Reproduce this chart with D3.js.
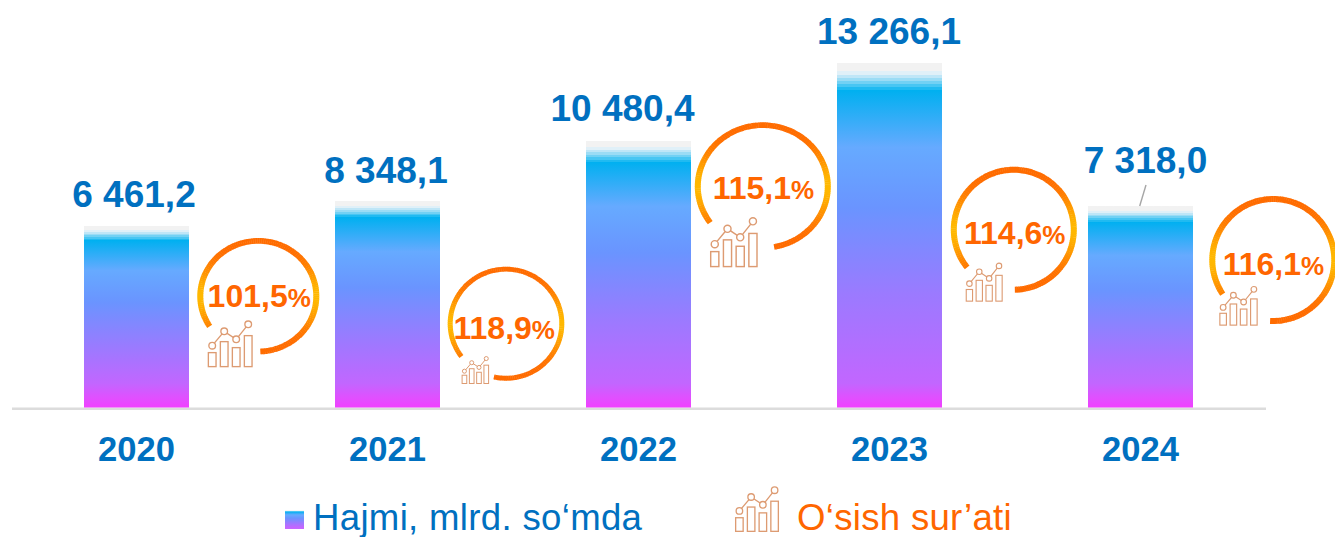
<!DOCTYPE html>
<html><head><meta charset="utf-8">
<script src="https://cdn.jsdelivr.net/npm/d3@7"></script>
<style>html,body{margin:0;padding:0;background:#fff;overflow:hidden}svg{display:block}text{font-family:"Liberation Sans",Arial,sans-serif}</style>
</head><body><svg id="c" width="1335" height="537"></svg>
<script>
// Data
const years = ["2020","2021","2022","2023","2024"];
const valueLabels = ["6 461,2","8 348,1","10 480,4","13 266,1","7 318,0"];
// Bar lengths as drawn in the reference, in the same unit. The source chart's bars are not
// strictly proportional to its printed labels, so the drawn lengths are kept apart from them.
const drawnVolumes = [6989,7952,10263,13266.1,7759];
const growthWhole = ["101,5","118,9","115,1","114,6","116,1"];
const legendLabels = ["Hajmi, mlrd. so‘mda","O‘sish sur’ati"];
const iconBars = [42,75,57,93];
const iconLine = [65,108,84,129];

// Layout of hand-placed annotations
const valueLabelPos = [[134,206.5],[386,183],[622.5,121],[889,44],[1145.5,173]];
const badgeLayout = [
 {cx:258.3,cy:296.2,rx:61,ry:58.2,a0:237,a1:538,tx:207.6,ty:306.7,ic:[207.7,320,45,47.3]},
 {cx:506,cy:323.7,rx:58.3,ry:57,a0:233,a1:552.5,tx:453.5,ty:339,ic:[461.7,356,27.3,28]},
 {cx:762.8,cy:186.5,rx:68,ry:64.2,a0:234,a1:530,tx:712.7,ty:199.3,ic:[710,216.7,47.7,50.6]},
 {cx:1013.8,cy:229.7,rx:63,ry:63,a0:231,a1:539,tx:964,ty:244.3,ic:[965.7,262.3,37,39.4]},
 {cx:1273.3,cy:260,rx:64,ry:64,a0:236,a1:543,tx:1222.7,ty:275,ic:[1219.3,285.7,38.4,40]}
];

const BLUE="#0070c0", ORANGE="#ff6600", ICON="#dd9b72";
const svg=d3.select("#c");
const defs=svg.append("defs");
const topStops=[[0,"#f2f2f2"],[.024,"#f2f2f2"],[.024,"#e0f0f8"],[.034,"#e0f0f8"],[.034,"#bfe6f7"],[.043,"#bfe6f7"],[.043,"#9bdcf5"],[.052,"#9bdcf5"],
 [.052,"#72d1f4"],[.061,"#72d1f4"],[.061,"#48c6f3"],[.070,"#48c6f3"],[.070,"#20baf1"],[.079,"#20baf1"],[.079,"#00b0f0"],
 [.245,"#66aaff"],[.42,"#6a94ff"],[.67,"#9b7aff"]];
function gradient(id,tail){
  const g=defs.append("linearGradient").attr("id",id).attr("x1",0).attr("x2",0).attr("y1",0).attr("y2",1);
  topStops.concat(tail).forEach(([o,c])=>g.append("stop").attr("offset",o).attr("stop-color",c));
}

const x=d3.scaleBand().domain(years).range([11,1266]).paddingInner(146/251).paddingOuter(73/251);
const y=d3.scaleLinear().domain([0,13266.1]).range([407.5,63]);

// axis
const axis=svg.append("g").attr("transform","translate(0,408.7)").call(d3.axisBottom(x).tickSize(0));
axis.select(".domain").attr("stroke","#dcdcdc").attr("stroke-width",2.4).attr("d","M12,0H1266");
axis.selectAll("text").attr("y",0).attr("dy",0).attr("transform","translate(0,52.3)")
 .attr("fill",BLUE).attr("font-size",34.6).attr("font-weight",700).attr("font-family",'"Liberation Sans",Arial,sans-serif');
axis.selectAll(".tick line").remove();

// bars: the pink foot keeps about the same pixel depth on every bar
years.forEach((d,i)=>{
  const h=y(0)-y(drawnVolumes[i]);
  gradient("barG"+i,[[1-24/h,"#c266ff"],[1-10/h,"#e050ff"],[1,"#f040ff"]]);
});
svg.append("g").selectAll("rect").data(years).join("rect")
 .attr("x",d=>x(d)).attr("width",x.bandwidth())
 .attr("y",(d,i)=>y(drawnVolumes[i])).attr("height",(d,i)=>y(0)-y(drawnVolumes[i]))
 .attr("fill",(d,i)=>`url(#barG${i})`);

// value labels
svg.append("g").selectAll("text").data(valueLabels).join("text")
 .attr("x",(d,i)=>valueLabelPos[i][0]).attr("y",(d,i)=>valueLabelPos[i][1])
 .attr("text-anchor","middle").attr("fill",BLUE).attr("font-size",37).attr("font-weight",700).text(d=>d);

// leader line on the last bar
const last=years.length-1;
svg.append("line").attr("x1",valueLabelPos[last][0]+.5).attr("y1",185)
 .attr("x2",x(years[last])+x.bandwidth()/2-.8).attr("y2",y(drawnVolumes[last]))
 .attr("stroke","#a6a6a6").attr("stroke-width",1.4);

// small chart icon
function drawIcon(g,[ix,iy,w,h]){
  const ib=d3.scaleBand().domain(d3.range(4)).range([0,w]).paddingInner(.36).paddingOuter(.055);
  const iv=d3.scaleLinear().domain([0,142]).range([h,0]);
  const sw=Math.max(1,w*.03);
  const n=g.append("g").attr("transform",`translate(${ix},${iy})`).attr("fill","none").attr("stroke",ICON).attr("stroke-width",sw);
  n.selectAll("rect").data(iconBars).join("rect")
   .attr("x",(d,i)=>ib(i)).attr("width",ib.bandwidth()).attr("y",d=>iv(d)-sw/2).attr("height",d=>iv(0)-iv(d));
  const px=i=>ib(i)+ib.bandwidth()/2;
  n.append("path").attr("d",d3.line().x((d,i)=>px(i)).y(d=>iv(d))(iconLine));
  n.selectAll("circle").data(iconLine).join("circle")
   .attr("cx",(d,i)=>px(i)).attr("cy",d=>iv(d)).attr("r",w*.074).attr("fill","#fff");
}

// growth badges
const mix=d3.interpolateRgb("#ff6c00","#ffb800");
badgeLayout.forEach((b,i)=>{
  const g=svg.append("g");
  const ring=g.append("g").attr("transform",`translate(${b.cx},${b.cy}) scale(1,${b.ry/b.rx})`);
  const w=b.rx<60?5:6;
  const arc=d3.arc().innerRadius(b.rx-w).outerRadius(b.rx);
  const rad=Math.PI/180;
  for(let a=b.a0;a<b.a1;a+=2){
    const mid=(a+1)*rad;
    const t=Math.pow(Math.abs(Math.sin(mid)),7);
    ring.append("path").attr("d",arc({startAngle:a*rad,endAngle:Math.min(a+2.4,b.a1)*rad})).attr("fill",mix(t));
  }
  const t=g.append("text").attr("x",b.tx).attr("y",b.ty).attr("fill",ORANGE).attr("font-weight",700);
  t.append("tspan").attr("font-size",32).text(growthWhole[i]);
  t.append("tspan").attr("font-size",26).text("%");
  drawIcon(g,b.ic);
});

// legend
gradient("legG",[[.9,"#c266ff"],[1,"#c868ff"]]);
const leg=svg.append("g");
leg.append("rect").attr("x",285).attr("y",510.3).attr("width",19).attr("height",18.7).attr("fill","url(#legG)");
leg.append("text").attr("x",313).attr("y",530).attr("fill",BLUE).attr("font-size",36.6).attr("letter-spacing",.32).text(legendLabels[0]);
drawIcon(leg,[735,486,44,46]);
leg.append("text").attr("x",797).attr("y",530).attr("fill",ORANGE).attr("font-size",36.6).attr("letter-spacing",.3).text(legendLabels[1]);
</script></body></html>
